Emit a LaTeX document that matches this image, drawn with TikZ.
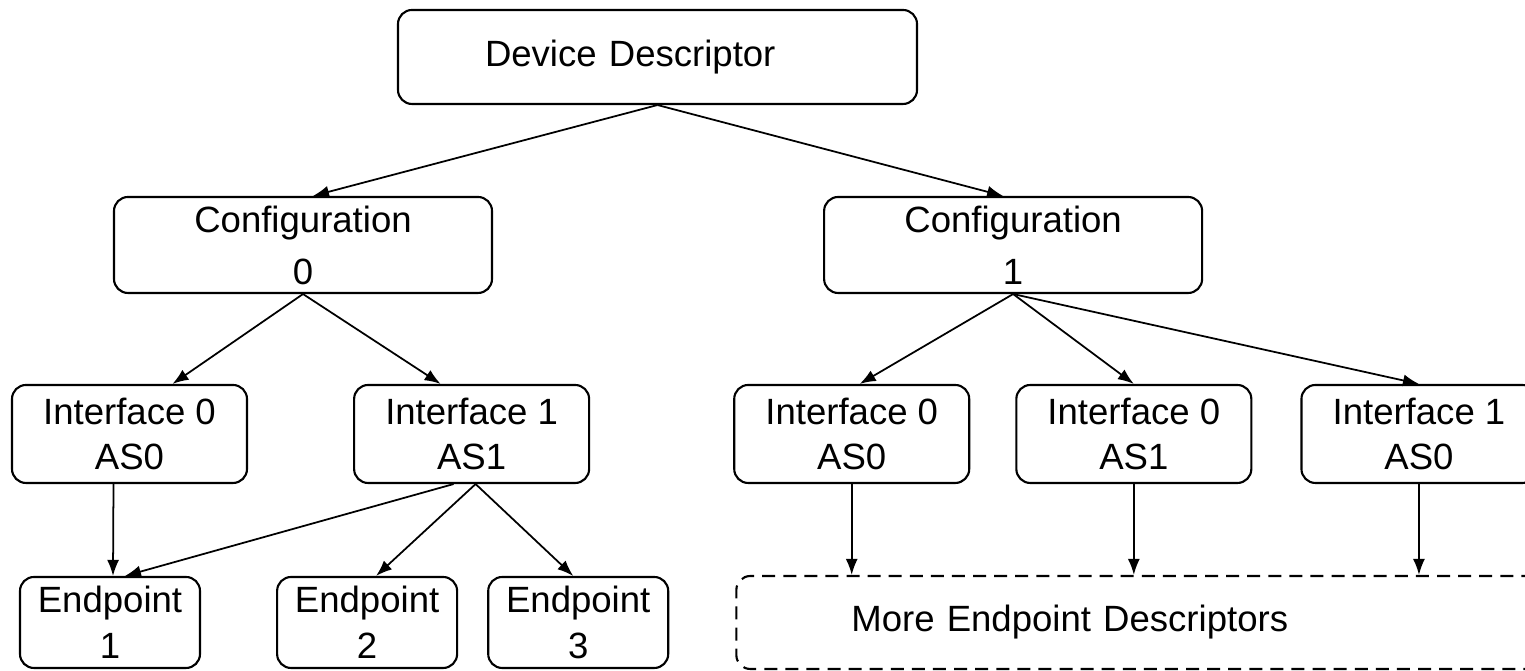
\documentclass[tikz,border=0pt]{standalone}
\usepackage{fontspec}
\setmainfont{Liberation Sans}
\usetikzlibrary{arrows.meta, positioning}

\begin{document}
\begin{tikzpicture}[
  desc/.style={rectangle, rounded corners=0.14cm, draw, line width=0.6pt,
    align=center, inner sep=0pt, font=\fontsize{10.4}{13.2}\selectfont},
  cfgbox/.style={desc, minimum width=3.78cm, minimum height=0.96cm,
    font=\fontsize{10.4}{14.8}\selectfont},
  ifbox/.style={desc, minimum width=2.35cm, minimum height=0.98cm,
    font=\fontsize{10.4}{12.8}\selectfont},
  epbox/.style={desc, minimum width=1.80cm, minimum height=0.91cm},
  arrow/.style={-{Latex[length=1.6mm, width=1.2mm]}, line width=0.5pt}
]
\useasboundingbox (0,0) rectangle (15.25,6.71);

\node[desc, minimum height=0.94cm, inner xsep=0.87cm, text width=3.45cm,
  align=left] (dev) at (6.575,6.14) {Device Descriptor};

\node[cfgbox] (cfg0) at (3.03,4.26) {Configuration\\0};
\node[cfgbox, right=3.30cm of cfg0] (cfg1) {Configuration\\1};

\node[ifbox] (ifa) at (1.295,2.37) {Interface 0\\AS0};
\node[ifbox, right=1.05cm of ifa] (ifb) {Interface 1\\AS1};
\node[ifbox, right=1.43cm of ifb] (ifc) {Interface 0\\AS0};
\node[ifbox, right=0.45cm of ifc] (ifd) {Interface 0\\AS1};
\node[ifbox, right=0.48cm of ifd] (ife) {Interface 1\\AS0};

\node[epbox] (ep1) at (1.10,0.485) {Endpoint\\1};
\node[epbox, right=0.75cm of ep1] (ep2) {Endpoint\\2};
\node[epbox, right=0.29cm of ep2] (ep3) {Endpoint\\3};
\node[desc, dash pattern=on 3.7pt off 2.3pt, minimum height=0.93cm,
  inner xsep=1.15cm, text width=5.82cm, align=left,
  right=0.66cm of ep3] (more) {More Endpoint Descriptors};

\draw[arrow] (dev.south) -- ([xshift=1mm]cfg0.north);
\draw[arrow] (dev.south) -- ([xshift=-1mm]cfg1.north);

\draw[arrow] (cfg0.south) -- ([xshift=4.3mm]ifa.north);
\draw[arrow] (cfg0.south) -- ([xshift=-3.1mm]ifb.north);
\draw[arrow] (cfg1.south) -- ([xshift=0.8mm]ifc.north);
\draw[arrow] (cfg1.south) -- (ifd.north);
\draw[arrow] (cfg1.south) -- (ife.north);

\draw[arrow] ([xshift=-1.6mm]ifa.south) -- ([xshift=0.3mm]ep1.north);
\draw[arrow] ([xshift=-1.8mm]ifb.south) -- ([xshift=1.5mm]ep1.north);
\draw[arrow] ([xshift=0.4mm]ifb.south) -- ([xshift=0.9mm]ep2.north);
\draw[arrow] ([xshift=0.4mm]ifb.south) -- ([xshift=-0.5mm]ep3.north);

\draw[arrow] (ifc.south) -- (ifc.south |- more.north);
\draw[arrow] (ifd.south) -- (ifd.south |- more.north);
\draw[arrow] (ife.south) -- (ife.south |- more.north);
\end{tikzpicture}
\end{document}
